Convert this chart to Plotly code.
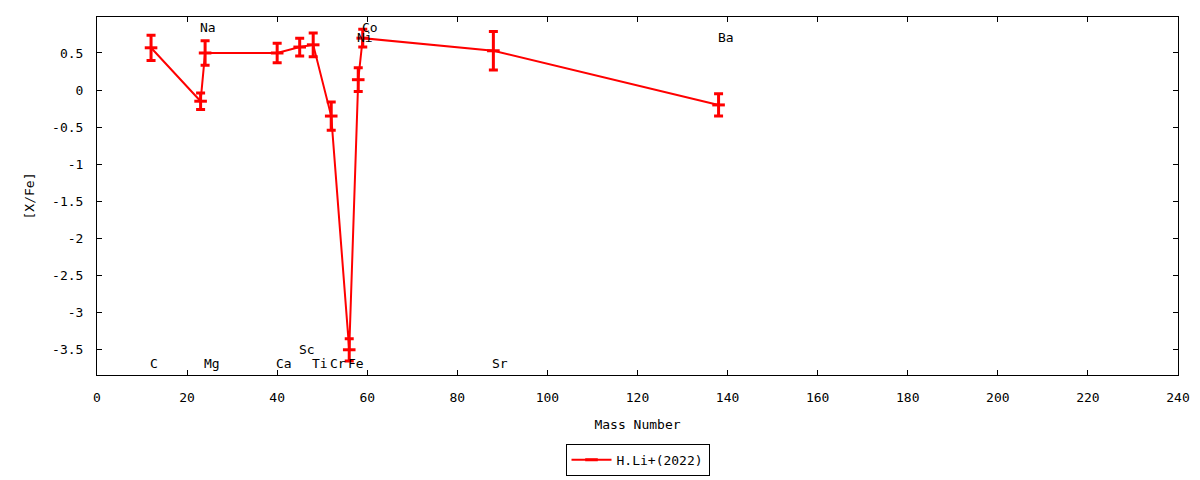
import plotly.graph_objects as go

# abundances of H.Li+ (2022), [X/Fe] against mass number
elements = ["C", "Na", "Mg", "Ca", "Sc", "Ti", "Cr", "Fe", "Ni", "Co", "Sr", "Ba"]
mass_number = [12, 23, 24, 40, 45, 48, 52, 56, 58, 59, 88, 138]
x_fe = [0.57, -0.15, 0.50, 0.50, 0.58, 0.61, -0.35, -3.50, 0.14, 0.70, 0.53, -0.20]
x_fe_err = [0.17, 0.11, 0.165, 0.13, 0.12, 0.16, 0.19, 0.15, 0.16, 0.12, 0.26, 0.15]

# element name labels (gnuplot-style, placed in data coordinates)
label_y = [-3.68, 0.85, -3.68, -3.68, -3.50, -3.68, -3.68, -3.68, 0.71, 0.85, -3.68, 0.71]

x_ticks = list(range(0, 241, 20))
y_ticks = [0.5, 0, -0.5, -1, -1.5, -2, -2.5, -3, -3.5]
y_ticktext = ["0.5", "0", "-0.5", "-1", "-1.5", "-2", "-2.5", "-3", "-3.5"]

font = "DejaVu Sans Mono"

fig = go.Figure()
fig.add_trace(go.Scatter(
    x=mass_number, y=x_fe, name="H.Li+(2022)",
    mode="lines+markers",
    line=dict(color="#ff0000", width=2),
    marker=dict(symbol="line-ew", size=9, color="#ff0000",
                line=dict(color="#ff0000", width=3)),
    error_y=dict(type="data", array=x_fe_err, visible=True,
                 color="#ff0000", thickness=3, width=4.5),
))

for name, mx, ly in zip(elements, mass_number, label_y):
    fig.add_annotation(x=mx, y=ly, xref="x", yref="y", text=name,
                       showarrow=False, xanchor="left", yanchor="middle",
                       xshift=-3, font=dict(family=font, size=13, color="black"))

axis_common = dict(showgrid=False, zeroline=False, showline=True, linecolor="black",
                   linewidth=1, mirror="ticks", ticks="inside", ticklen=5,
                   tickcolor="black", tickfont=dict(family=font, size=13, color="black"))

fig.update_xaxes(range=[0, 240], tickvals=x_ticks, ticklabelstandoff=10,
                 title=dict(text="Mass Number", standoff=16,
                            font=dict(family=font, size=13, color="black")),
                 **axis_common)
fig.update_yaxes(range=[-3.84, 0.985], tickvals=y_ticks, ticktext=y_ticktext,
                 ticklabelstandoff=10,
                 title=dict(text="[X/Fe]", standoff=14,
                            font=dict(family=font, size=13, color="black")),
                 **axis_common)

# the page body adds an 8px offset, so margins are trimmed to match
fig.update_layout(
    width=1200, height=480,
    margin=dict(l=89, r=30, t=9, b=113, autoexpand=False),
    plot_bgcolor="white", paper_bgcolor="white",
    font=dict(family=font, size=13, color="black"),
    showlegend=True,
    legend=dict(orientation="h", x=0.5, xanchor="center",
                yref="container", y=0.092, yanchor="top", itemwidth=40,
                bordercolor="black", borderwidth=1, bgcolor="white",
                font=dict(family=font, size=13, color="black")),
)

fig.write_html("out.html")
